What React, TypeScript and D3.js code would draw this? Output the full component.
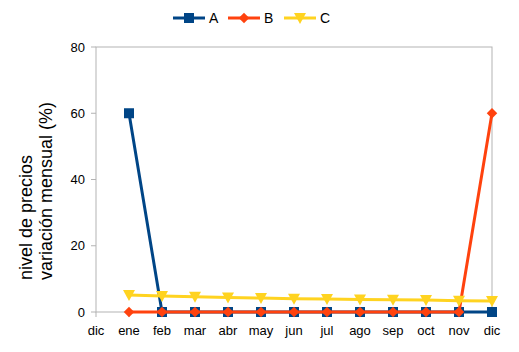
import React from "react";
import * as d3 from "d3";

const categories = ["dic", "ene", "feb", "mar", "abr", "may", "jun", "jul", "ago", "sep", "oct", "nov", "dic"];
const seriesA: (number | null)[] = [null, 60, 0, 0, 0, 0, 0, 0, 0, 0, 0, 0, 0];
const seriesB: (number | null)[] = [null, 0, 0, 0, 0, 0, 0, 0, 0, 0, 0, 0, 60];
const seriesC: (number | null)[] = [null, 5.1, 4.8, 4.6, 4.4, 4.2, 4.0, 3.9, 3.8, 3.7, 3.6, 3.4, 3.3];
const yTicks = [0, 20, 40, 60, 80];
const seriesNames = ["A", "B", "C"];
const colors = ["#004586", "#ff420e", "#ffd320"];

const W = 519, H = 352;
const left = 96, right = 492, top = 47, bottom = 312;
const FONT = "'Liberation Sans', Arial, sans-serif";

function Marker({ kind, x, y, color }: { kind: number; x: number; y: number; color: string }) {
  if (kind === 0) return <rect x={x - 5} y={y - 5} width={10} height={10} fill={color} />;
  if (kind === 1) {
    const s = d3.symbol().type(d3.symbolDiamond2).size(70)();
    return <path d={s || ""} transform={`translate(${x},${y})`} fill={color} />;
  }
  return <path d={`M${x - 6},${y - 5}L${x + 6},${y - 5}L${x},${y + 6}Z`} fill={color} />;
}

export default function App() {
  const x = d3.scalePoint<number>().domain(categories.map((_, i) => i)).range([left, right]);
  const y = d3.scaleLinear().domain([0, 80]).range([bottom, top]);
  const all = [seriesA, seriesB, seriesC];
  const line = d3
    .line<number | null>()
    .defined((d) => d !== null)
    .x((_, i) => x(i) as number)
    .y((d) => y(d as number));
  const legendX = [173, 228, 284];
  return (
    <svg width={W} height={H} style={{ position: "absolute", left: 0, top: 0, background: "#fff" }}>
      <rect x={0} y={0} width={W} height={H} fill="#fff" />
      <rect x={left} y={top} width={right - left} height={bottom - top} fill="none" stroke="#b3b3b3" strokeWidth={1} />
      {yTicks.map((t) => (
        <g key={t}>
          <line x1={left - 5} x2={left} y1={y(t)} y2={y(t)} stroke="#b3b3b3" />
          <text x={left - 11} y={y(t)} dy="0.35em" textAnchor="end" fontFamily={FONT} fontSize={13} fill="#000">
            {t}
          </text>
        </g>
      ))}
      {categories.map((c, i) => (
        <g key={i}>
          <line x1={x(i)} x2={x(i)} y1={bottom} y2={bottom + 5} stroke="#b3b3b3" />
          <text x={x(i)} y={335} textAnchor="middle" fontFamily={FONT} fontSize={13} fill="#000">
            {c}
          </text>
        </g>
      ))}
      <g transform="translate(32,280) rotate(-90)">
        <text x={0} y={0} fontFamily={FONT} fontSize={18} fill="#000">nivel de precios</text>
        <text x={0} y={20} fontFamily={FONT} fontSize={18} fill="#000">variación mensual (%)</text>
      </g>
      {all.map((s, k) => (
        <g key={k}>
          <path d={line(s) || ""} fill="none" stroke={colors[k]} strokeWidth={3} strokeLinejoin="round" />
          {s.map((v, i) =>
            v === null ? null : <Marker key={i} kind={k} x={x(i) as number} y={y(v)} color={colors[k]} />
          )}
        </g>
      ))}
      {seriesNames.map((n, k) => (
        <g key={n}>
          <line x1={legendX[k]} x2={legendX[k] + 32} y1={18} y2={18} stroke={colors[k]} strokeWidth={3} />
          <Marker kind={k} x={legendX[k] + 16} y={18} color={colors[k]} />
          <text x={legendX[k] + 36} y={18} dy="0.35em" fontFamily={FONT} fontSize={14} fill="#000">
            {n}
          </text>
        </g>
      ))}
    </svg>
  );
}
